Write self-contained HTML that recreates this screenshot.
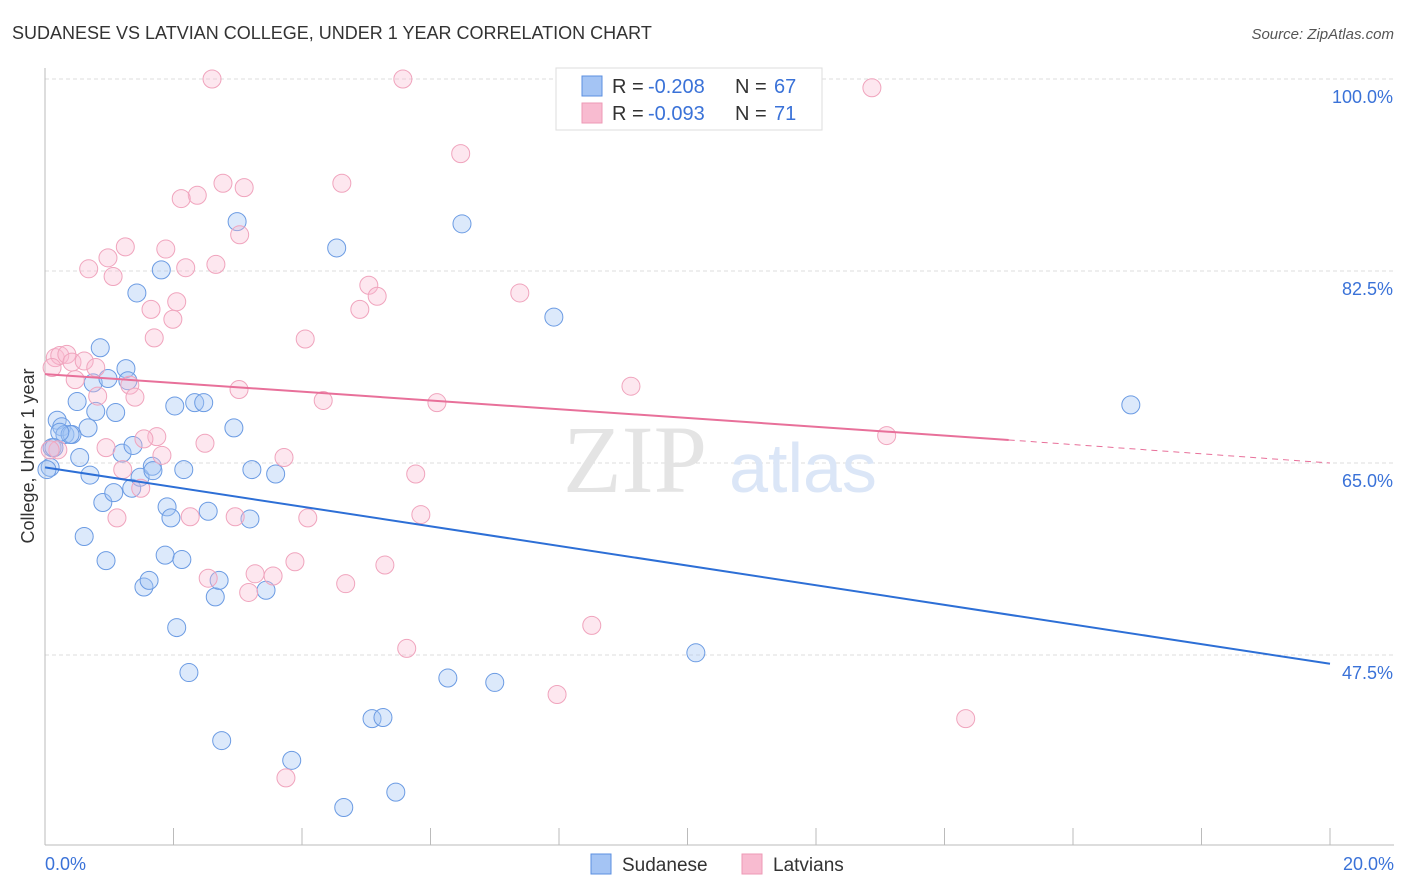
<!DOCTYPE html>
<html><head><meta charset="utf-8">
<style>
body{margin:0;background:#fff;font-family:"Liberation Sans",sans-serif;}
#wrap{position:relative;width:1406px;height:892px;overflow:hidden;}
svg{position:absolute;left:0;top:0;}
</style></head>
<body><div id="wrap">
<svg id="c" width="1406" height="892"></svg>
</div>
<script>
const sudX=[.08,.11,.19,.26,.31,.42,.50,.54,.61,.67,.70,.75,.79,.86,.90,.95,.98,1.07,1.10,1.20,1.26,1.29,1.35,1.37,1.43,1.48,1.54,1.62,1.67,1.68,1.81,1.87,1.90,1.96,2.02,2.05,2.13,2.16,2.24,2.33,2.47,2.54,2.65,2.71,2.75,2.94,2.99,3.19,3.22,3.44,3.59,3.84,4.54,4.65,5.09,5.26,5.46,6.27,6.49,7.00,7.92,10.13,16.90,.39,.23,.14,.03];
const sudY=[64.6,66.4,68.9,68.3,67.6,67.6,70.6,65.5,58.3,68.2,63.9,72.3,69.7,75.5,61.4,56.1,72.7,62.3,69.6,65.9,73.6,72.5,62.7,66.6,80.5,63.7,53.7,54.3,64.7,64.3,82.6,56.6,61.0,60.0,70.2,50.0,56.2,64.4,45.9,70.5,70.5,60.6,52.8,54.3,39.7,68.2,87.0,59.9,64.4,53.4,64.0,37.9,84.6,33.6,41.7,41.8,35.0,45.4,86.8,45.0,78.3,47.7,70.3,67.6,67.8,66.4,64.4];
const latX=[2.60,5.57,10.41,12.87,6.47,2.77,3.10,2.37,2.12,4.62,3.03,1.25,1.88,.98,2.66,.68,1.06,2.19,5.04,5.17,7.39,2.05,1.65,4.90,1.99,1.70,4.05,.16,.23,.34,.42,.61,.79,.11,.47,1.32,3.02,9.12,.82,1.40,4.33,6.10,1.74,1.54,2.49,.95,.20,1.82,3.72,1.21,5.77,1.49,1.12,2.26,2.96,4.09,5.85,3.89,5.29,3.27,2.54,3.55,4.68,3.17,8.51,5.63,7.97,14.33,3.75,13.10,.08];
const latY=[100,100,100,99.2,93.2,90.5,90.1,89.4,89.1,90.5,85.8,84.7,84.5,83.7,83.1,82.7,82.0,82.8,81.2,80.2,80.5,79.7,79.0,79.0,78.1,76.4,76.3,74.6,74.8,74.9,74.2,74.3,73.7,73.7,72.6,72.1,71.7,72.0,71.1,71.0,70.7,70.5,67.4,67.2,66.8,66.4,66.2,65.7,65.5,64.4,64.0,62.7,60.0,60.1,60.1,60.0,60.3,56.0,55.7,54.9,54.5,54.7,54.0,53.2,50.2,48.1,43.9,41.7,36.3,67.5,66.2];
const yTicks=[100,82.5,65,47.5];
const yTickLabels=["100.0%","82.5%","65.0%","47.5%"];
const sudTrend=[64.6,46.7];
const latTrend=[73.1,67.1,65.0];
const NS="http://www.w3.org/2000/svg";
const svg=document.getElementById('c');
const X=v=>45+v/20*1285;
const Y=v=>79+(100-v)/17.5*192;
function el(t,a,txt){const e=document.createElementNS(NS,t);for(const k in a)e.setAttribute(k,a[k]);if(txt!==undefined)e.textContent=txt;svg.appendChild(e);return e;}
let e;
e=el('text',{x:12,y:39,'font-size':18,fill:'#333'},'SUDANESE VS LATVIAN COLLEGE, UNDER 1 YEAR CORRELATION CHART');


e=el('text',{x:1394,y:39,'font-size':15,fill:'#555','font-style':'italic','text-anchor':'end'},'Source: ZipAtlas.com');


yTicks.forEach((t,i)=>{
 e=el('line',{x1:45,x2:1394,y1:Y(t),y2:Y(t),stroke:'#ddd','stroke-dasharray':'4,3'});
 
 
 e=el('text',{x:1393,y:Y(t)+24,'font-size':18,fill:'#3a72d8','text-anchor':'end'},yTickLabels[i]);
 
 
});
e=el('line',{x1:45,x2:45,y1:68,y2:845,stroke:'#bbb'});


e=el('line',{x1:45,x2:1394,y1:845,y2:845,stroke:'#bbb'});


for(let i=0;i<=10;i++){e=el('line',{x1:X(i*2),x2:X(i*2),y1:828,y2:845,stroke:'#bbb'});
 
 }
e=el('text',{x:45,y:870,'font-size':18,fill:'#3a72d8'},'0.0%');


e=el('text',{x:1394,y:870,'font-size':18,fill:'#3a72d8','text-anchor':'end'},'20.0%');


e=el('text',{x:34,y:456,'font-size':18,fill:'#333','text-anchor':'middle',transform:'rotate(-90 34 456)'},'College, Under 1 year');


e=el('text',{x:635,y:492,'font-size':96,fill:'#e4e4e4','text-anchor':'middle','font-family':'Liberation Serif, serif'},'ZIP');


e=el('text',{x:803,y:492,'font-size':70,fill:'#dbe6f7','text-anchor':'middle'},'atlas');


sudX.forEach((x,i)=>{e=el('circle',{cx:X(x),cy:Y(sudY[i]),r:9,fill:'rgba(164,196,244,0.38)',stroke:'#6b9be3','stroke-width':1});
 
 });
latX.forEach((x,i)=>{e=el('circle',{cx:X(x),cy:Y(latY[i]),r:9,fill:'rgba(248,187,208,0.35)',stroke:'#f0a4bd','stroke-width':1});
 
 });
e=el('line',{x1:X(0),y1:Y(sudTrend[0]),x2:X(20),y2:Y(sudTrend[1]),stroke:'#2d6fd6','stroke-width':2});


e=el('line',{x1:X(0),y1:Y(latTrend[0]),x2:X(15),y2:Y(latTrend[1]),stroke:'#e8709a','stroke-width':2});


e=el('line',{x1:X(15),y1:Y(latTrend[1]),x2:X(20),y2:Y(latTrend[2]),stroke:'#e8709a','stroke-width':1,'stroke-dasharray':'6,5'});


e=el('rect',{x:556,y:68,width:266,height:62,fill:'#fff',stroke:'#ddd'});


[["#a4c4f4","#5b8fe0","-0.208","67",86],["#f8bbd0","#ee9ab6","-0.093","71",113]].forEach(r=>{
 e=el('rect',{x:582,y:r[4]-10,width:20,height:20,fill:r[0],stroke:r[1]});
 
 
 e=el('text',{x:612,y:r[4]+7,'font-size':20,fill:'#333'},'R = ');
 
 
 e=el('text',{x:648,y:r[4]+7,'font-size':20,fill:'#3a72d8'},r[2]);
 
 
 e=el('text',{x:735,y:r[4]+7,'font-size':20,fill:'#333'},'N = ');
 
 
 e=el('text',{x:774,y:r[4]+7,'font-size':20,fill:'#3a72d8'},r[3]);
 
 
});
[[591,"#a4c4f4","#5b8fe0","Sudanese"],[742,"#f8bbd0","#ee9ab6","Latvians"]].forEach(r=>{
 e=el('rect',{x:r[0],y:854,width:20,height:20,fill:r[1],stroke:r[2]});
 
 
 e=el('text',{x:r[0]+31,y:871,'font-size':19,fill:'#333'},r[3]);
 
 
});
</script>
</body></html>
